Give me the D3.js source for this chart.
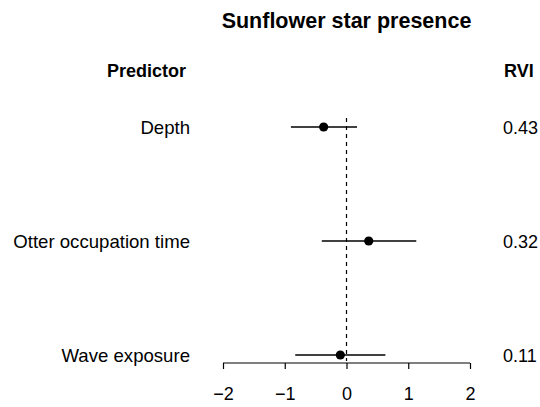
<!DOCTYPE html>
<html>
<head>
<meta charset="utf-8">
<script src="https://cdn.jsdelivr.net/npm/d3@7"></script>
<style>
  html, body { margin: 0; padding: 0; background: #fff; }
  svg { display: block; }
  text { font-family: "Liberation Sans", Arial, Helvetica, sans-serif; fill: #000; }
</style>
</head>
<body>
<svg id="chart" width="540" height="407"></svg>
<script>
// ---- data ----
const predictors = ["Depth", "Otter occupation time", "Wave exposure"];
const estimates  = [-0.37, 0.36, -0.10];
const lowerCI    = [-0.90, -0.40, -0.83];
const upperCI    = [0.17, 1.13, 0.63];
const rvi        = ["0.43", "0.32", "0.11"];
const xTicks     = [-2, -1, 0, 1, 2];
const title      = "Sunflower star presence";

const svg = d3.select("#chart");
svg.append("rect").attr("width", 540).attr("height", 407).attr("fill", "#fff");

const x = d3.scaleLinear().domain([-2, 2]).range([223, 470]);
const y = d3.scalePoint().domain(predictors).range([127, 355]);

const rows = predictors.map((p, i) => ({
  name: p, est: estimates[i], lo: lowerCI[i], hi: upperCI[i], rvi: rvi[i]
}));

// title
svg.append("text")
  .attr("x", x(0)).attr("y", 28)
  .attr("text-anchor", "middle")
  .style("font-size", "21.5px").style("font-weight", "bold")
  .text(title);

// column headers
svg.append("text")
  .attr("x", 186).attr("y", 77)
  .attr("text-anchor", "end")
  .style("font-size", "18px").style("font-weight", "bold")
  .text("Predictor");
svg.append("text")
  .attr("x", 504).attr("y", 77)
  .attr("text-anchor", "start")
  .style("font-size", "18px").style("font-weight", "bold")
  .text("RVI");

// zero reference line
svg.append("line")
  .attr("x1", x(0)).attr("x2", x(0))
  .attr("y1", 118).attr("y2", 361)
  .attr("stroke", "#000").attr("stroke-width", 1.2)
  .attr("stroke-dasharray", "4,4");

// CI lines
svg.selectAll(".ci").data(rows).enter().append("line")
  .attr("class", "ci")
  .attr("x1", d => x(d.lo)).attr("x2", d => x(d.hi))
  .attr("y1", d => y(d.name)).attr("y2", d => y(d.name))
  .attr("stroke", "#000").attr("stroke-width", 1.3);

// points
svg.selectAll(".pt").data(rows).enter().append("circle")
  .attr("class", "pt")
  .attr("cx", d => x(d.est)).attr("cy", d => y(d.name))
  .attr("r", 4.6).attr("fill", "#000");

// predictor labels
svg.selectAll(".lab").data(rows).enter().append("text")
  .attr("class", "lab")
  .attr("x", 190).attr("y", d => y(d.name) + 6.5)
  .attr("text-anchor", "end")
  .style("font-size", "18.6px")
  .text(d => d.name);

// RVI values
svg.selectAll(".rvi").data(rows).enter().append("text")
  .attr("class", "rvi")
  .attr("x", 503).attr("y", d => y(d.name) + 6.5)
  .attr("text-anchor", "start")
  .style("font-size", "18px")
  .text(d => d.rvi);

// x axis
const axis = d3.axisBottom(x).tickValues(xTicks).tickSize(6).tickPadding(18)
  .tickFormat(d => d < 0 ? "\u2212" + Math.abs(d) : String(d));
const gx = svg.append("g").attr("transform", "translate(0,363)").call(axis);
gx.select(".domain").attr("d", `M${x(-2)},0H${x(2)}`).attr("stroke", "#000").attr("stroke-width", 1.2);
gx.selectAll(".tick line").attr("stroke", "#000").attr("stroke-width", 1.2);
gx.selectAll(".tick text")
  .style("font-family", '"Liberation Sans", Arial, Helvetica, sans-serif')
  .style("font-size", "18px").attr("fill", "#000");
</script>
</body>
</html>
